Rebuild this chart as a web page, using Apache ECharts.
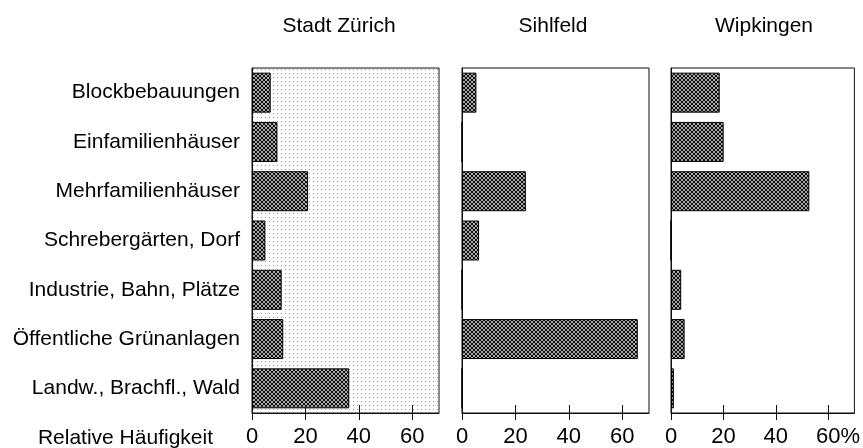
<!DOCTYPE html>
<html>
<head>
<meta charset="utf-8">
<script src="https://cdn.jsdelivr.net/npm/echarts@6/dist/echarts.min.js"></script>
<style>
html,body{margin:0;padding:0;background:#fff;}
#chart{width:863px;height:448px;}
</style>
</head>
<body>
<div id="chart"></div>
<script>
var categories = ['Blockbebauungen','Einfamilienhäuser','Mehrfamilienhäuser','Schrebergärten, Dorf','Industrie, Bahn, Plätze','Öffentliche Grünanlagen','Landw., Brachfl., Wald'];
var panelTitles = ['Stadt Zürich','Sihlfeld','Wipkingen'];
var stadtZuerich = [7, 9.5, 21, 5, 11.1, 11.7, 36.4];
var sihlfeld = [5.4, 0, 23.9, 6.4, 0, 65.8, 0];
var wipkingen = [18.6, 20.1, 52.8, 0, 3.9, 5.2, 1.1];
var tickValues = [0, 20, 40, 60];
var axisTitle = 'Relative Häufigkeit';

var FONT = "'Liberation Sans', Arial, sans-serif";

function makeHatch() {
  var c = document.createElement('canvas');
  c.width = 4; c.height = 4;
  var ctx = c.getContext('2d');
  ctx.fillStyle = '#a8a8a8';
  ctx.fillRect(0, 0, 4, 4);
  ctx.fillStyle = '#111111';
  for (var i = 0; i < 4; i++) {
    ctx.fillRect(i, i, 1, 1);
    ctx.fillRect(3 - i, i, 1, 1);
  }
  return c;
}
function makeDots() {
  var c = document.createElement('canvas');
  c.width = 4; c.height = 4;
  var ctx = c.getContext('2d');
  ctx.fillStyle = '#ffffff';
  ctx.fillRect(0, 0, 4, 4);
  ctx.fillStyle = '#9a9a9a';
  ctx.fillRect(1, 1, 1, 1);
  return c;
}
var hatch = makeHatch();
var dots = makeDots();

var grids = [
  {left: 252, width: 187, titleX: 339},
  {left: 462, width: 187, titleX: 553},
  {left: 671, width: 186, titleX: 764}
];
var datasets = [stadtZuerich, sihlfeld, wipkingen];

var option = {
  backgroundColor: '#ffffff',
  animation: false,
  textStyle: {fontFamily: FONT, color: '#000'},
  grid: grids.map(function (g, i) {
    return {
      left: g.left, width: g.width, top: 68, bottom: 35,
      show: true,
      backgroundColor: i === 0 ? {image: dots, repeat: 'repeat'} : '#ffffff',
      borderColor: '#111', borderWidth: 1
    };
  }),
  xAxis: [],
  yAxis: [],
  series: [],
  graphic: []
};

grids.forEach(function (g, i) {
  option.xAxis.push({
    type: 'value', gridIndex: i, position: 'bottom',
    min: 0, max: 70, interval: 20,
    axisLine: {show: true, lineStyle: {color: '#111', width: 1}},
    axisTick: {show: true, inside: false, length: 7, customValues: tickValues, lineStyle: {color: '#111'}},
    splitLine: {show: false},
    axisLabel: {
      show: true, margin: 13, fontSize: 22, color: '#000', fontFamily: FONT,
      customValues: tickValues,
      formatter: function (v) {
        if (i === 2 && v === 60) return '{n|60}{p|%}';
        return String(v);
      },
      rich: {
        n: {fontSize: 22, fontFamily: FONT, color: '#000', padding: [0, 0, 0, 19.6]},
        p: {fontSize: 22, fontFamily: FONT, color: '#000'}
      }
    }
  });
  option.xAxis.push({
    type: 'value', gridIndex: i, position: 'bottom',
    min: 0, max: 70, interval: 20,
    axisLine: {show: false},
    axisTick: {show: true, inside: true, length: 8, customValues: tickValues, lineStyle: {color: '#111'}},
    splitLine: {show: false},
    axisLabel: {show: false}
  });
  option.yAxis.push({
    type: 'category', gridIndex: i, data: categories, inverse: true,
    axisLine: {show: true, lineStyle: {color: '#111'}},
    axisTick: {show: false},
    splitLine: {show: false},
    axisLabel: {show: i === 0, margin: 12, fontSize: 21, color: '#000', fontFamily: FONT}
  });
  option.series.push({
    type: 'bar', xAxisIndex: i * 2, yAxisIndex: i,
    data: datasets[i], barWidth: 40,
    itemStyle: {color: {image: hatch, repeat: 'repeat'}, borderColor: '#000', borderWidth: 1},
    emphasis: {disabled: true}
  });
  option.graphic.push({
    type: 'text', x: g.titleX, y: 26,
    style: {text: panelTitles[i], fontSize: 21, fontFamily: FONT, fill: '#000', textAlign: 'center', textVerticalAlign: 'middle'}
  });
});
option.graphic.push({
  type: 'text', x: 213, y: 438,
  style: {text: axisTitle, fontSize: 21, fontFamily: FONT, fill: '#000', textAlign: 'right', textVerticalAlign: 'middle'}
});

var chart = echarts.init(document.getElementById('chart'), null, {renderer: 'canvas'});
chart.setOption(option);
</script>
</body>
</html>
